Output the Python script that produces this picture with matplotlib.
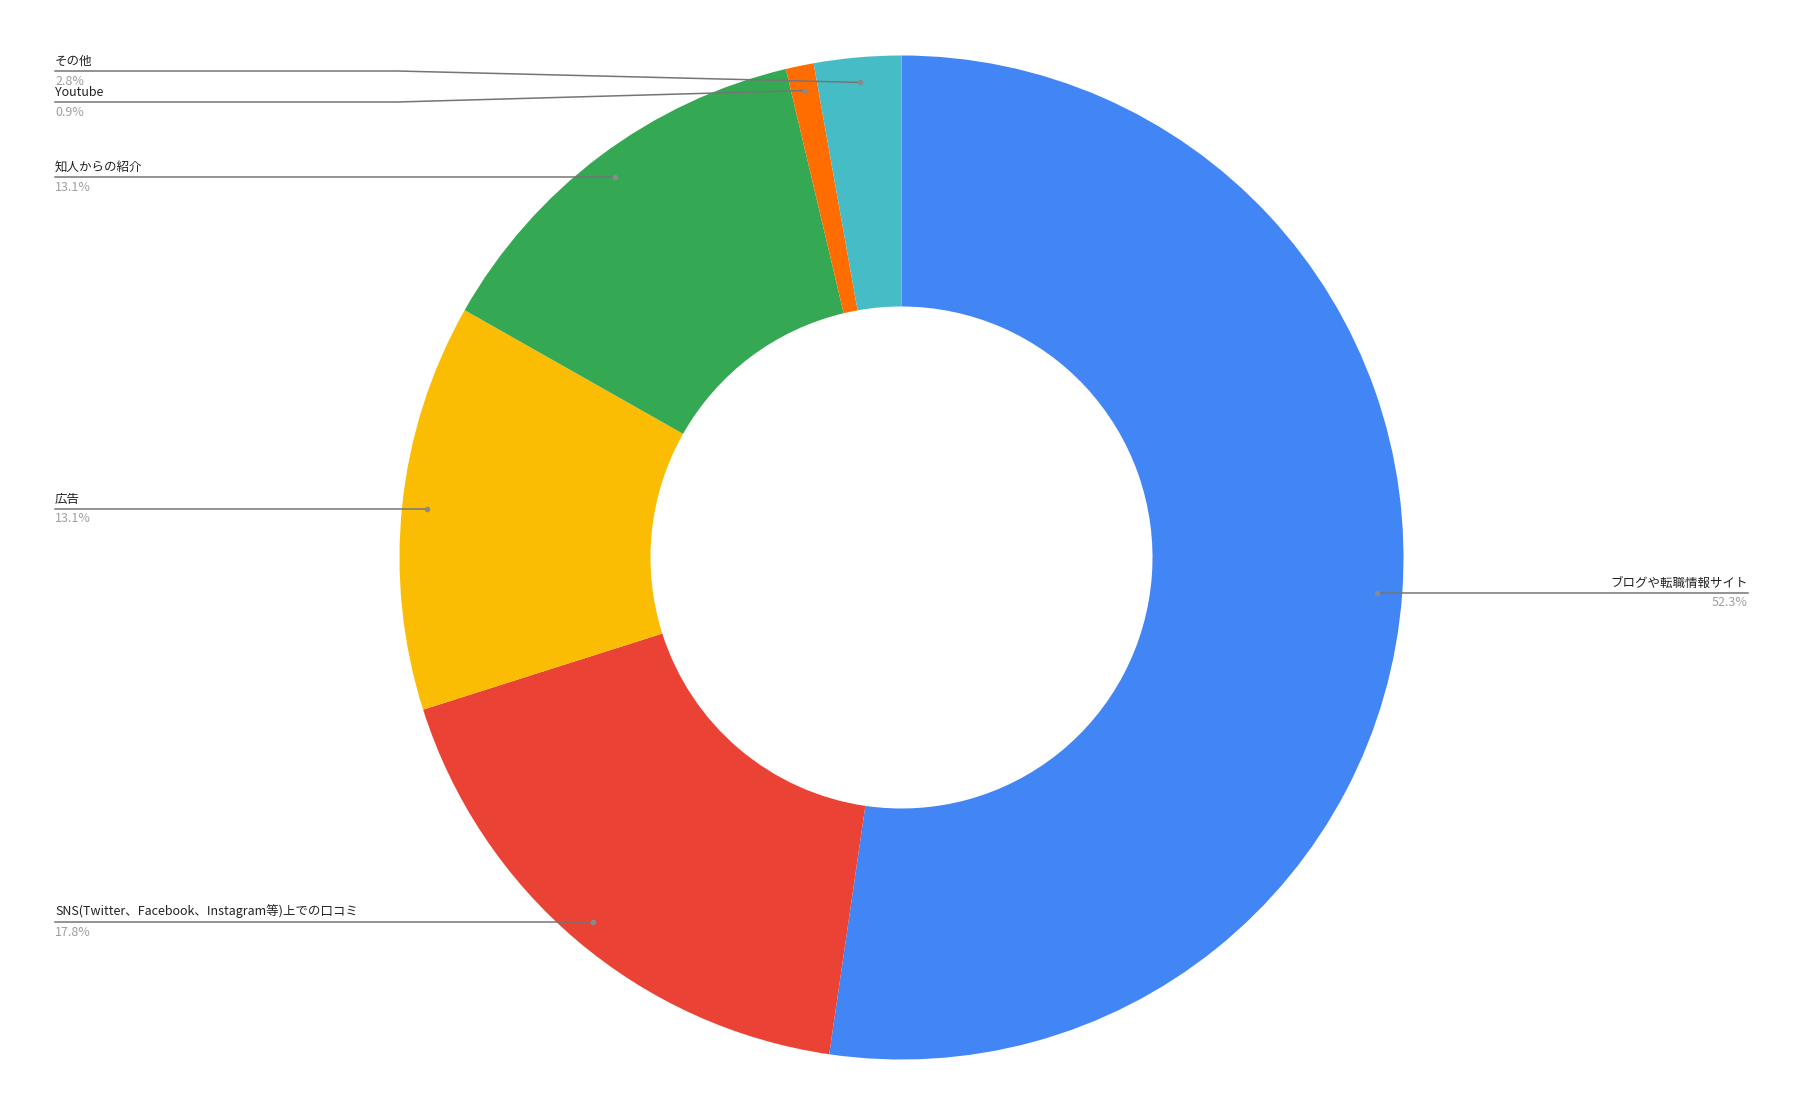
import numpy as np
import matplotlib.pyplot as plt

plt.rcParams['font.family'] = ['Noto Sans CJK JP', 'DejaVu Sans']

labels = ["ブログや転職情報サイト", "SNS(Twitter、Facebook、Instagram等)上での口コミ",
          "広告", "知人からの紹介", "Youtube", "その他"]
values = [52.3, 17.8, 13.1, 13.1, 0.9, 2.8]
colors = ["#4285F4", "#EA4335", "#FBBC04", "#34A853", "#FF6D01", "#46BDC6"]

W, H = 1804, 1116
fig = plt.figure(figsize=(W / 100, H / 100), dpi=100)
ax = fig.add_axes([0, 0, 1, 1])

cx, cy = 901.5, H - 557.5
R = 502
ax.pie(values, colors=colors, startangle=90, counterclock=False,
       center=(cx, cy), radius=R, frame=True,
       wedgeprops=dict(width=R * 0.5, linewidth=0))
ax.set_xlim(0, W)
ax.set_ylim(0, H)
ax.set_aspect("equal")
ax.axis("off")

# label layout: (line y in px from top, side)
layout = {
    "ブログや転職情報サイト": (592.5, "right"),
    "SNS(Twitter、Facebook、Instagram等)上での口コミ": (921.5, "left"),
    "広告": (508.5, "left"),
    "知人からの紹介": (177, "left"),
    "Youtube": (102, "left"),
    "その他": (71, "left"),
}
bent = {"Youtube", "その他"}

cum = np.cumsum([0] + values)
line_c = "#757575"
for i, lab in enumerate(labels):
    mid = 90 - (cum[i] + values[i] / 2) / 100 * 360
    a = np.deg2rad(mid)
    dx, dy = cx + 0.95 * R * np.cos(a), cy + 0.95 * R * np.sin(a)
    ly, side = layout[lab]
    ly = H - ly
    if side == "right":
        xe = 1748
        ax.plot([dx, xe], [ly, ly], color=line_c, lw=1.1, zorder=5)
        ha = "right"
        dy = ly
    else:
        xe = 55
        if lab in bent:
            ax.plot([dx, 397, xe], [dy, ly, ly], color=line_c, lw=1.1, zorder=5)
        else:
            ax.plot([dx, xe], [ly, ly], color=line_c, lw=1.1, zorder=5)
            dy = ly
        ha = "left"
    ax.text(xe, ly + 3, lab, ha=ha, va="bottom", fontsize=9, color="#222222")
    ax.text(xe, ly - 4, f"{values[i]}%", ha=ha, va="top", fontsize=9, color="#9e9e9e")
    ax.plot([dx], [dy], "o", color="#8a8a8a", ms=3, zorder=6)

fig.savefig("out.png", dpi=100)
